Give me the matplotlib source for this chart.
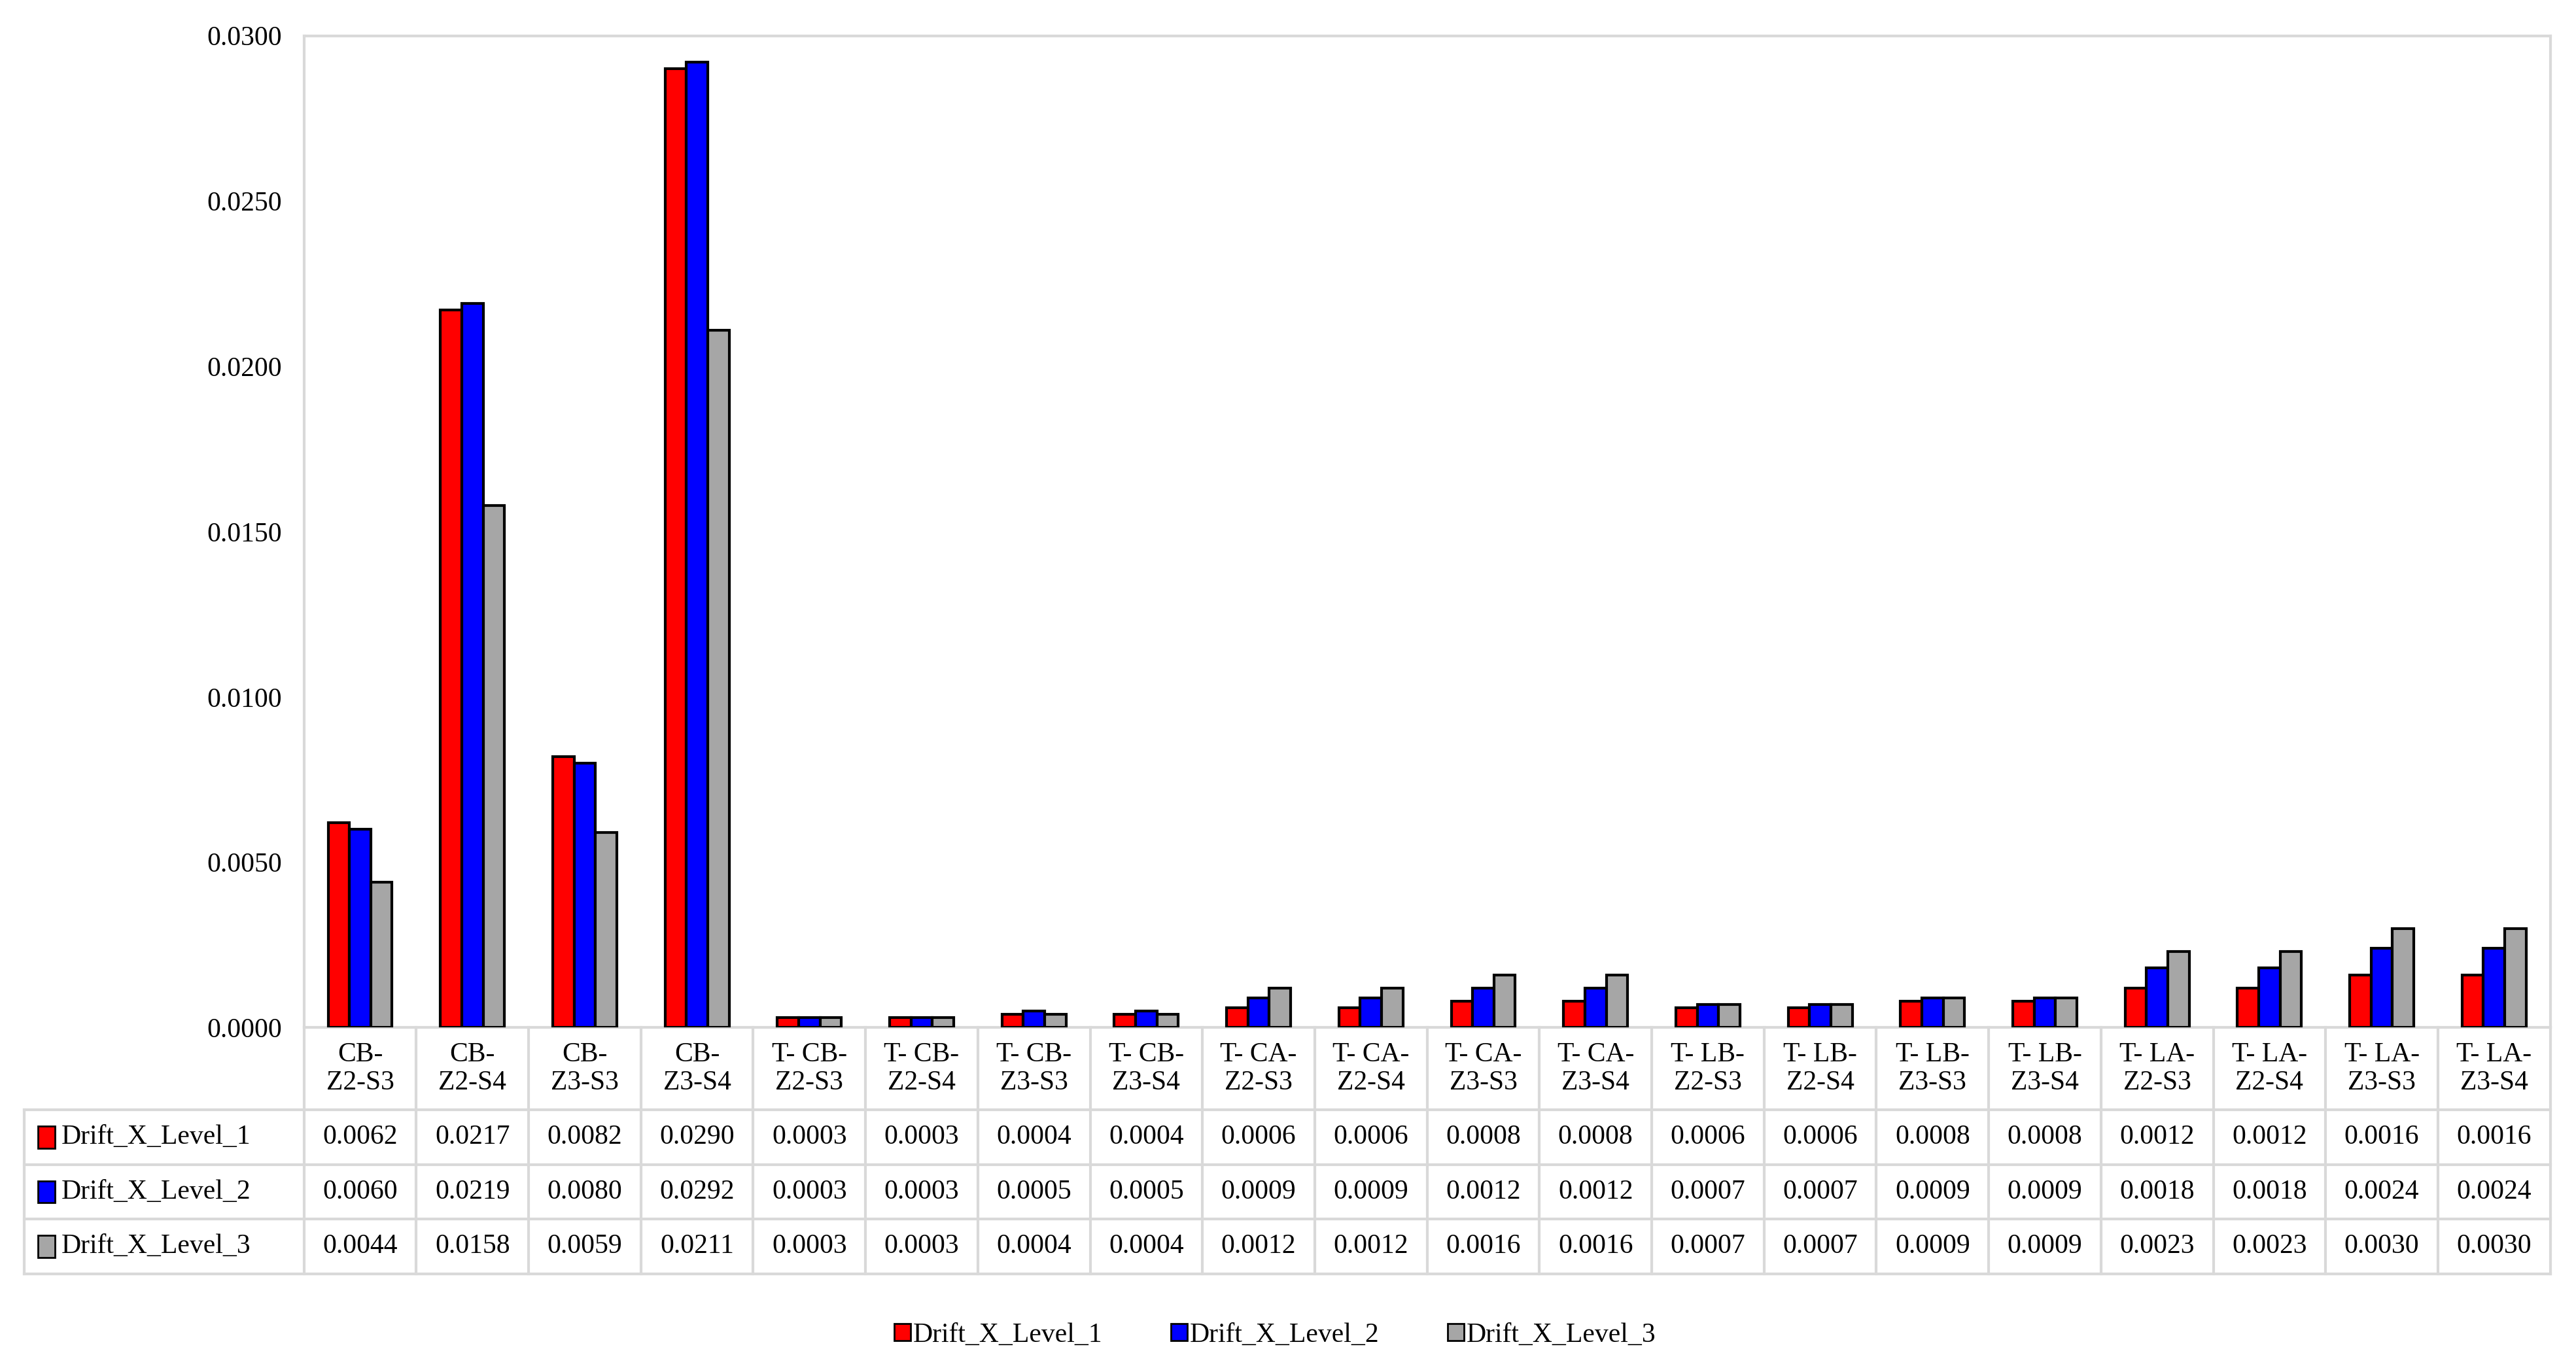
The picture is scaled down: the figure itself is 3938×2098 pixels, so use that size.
import matplotlib
matplotlib.use("Agg")
import matplotlib.pyplot as plt
from matplotlib.patches import Patch, Rectangle
from matplotlib.lines import Line2D
import numpy as np

plt.rcParams['font.family'] = ['Liberation Serif', 'DejaVu Serif']

categories = ["CB-\nZ2-S3", "CB-\nZ2-S4", "CB-\nZ3-S3", "CB-\nZ3-S4",
              "T- CB-\nZ2-S3", "T- CB-\nZ2-S4", "T- CB-\nZ3-S3", "T- CB-\nZ3-S4",
              "T- CA-\nZ2-S3", "T- CA-\nZ2-S4", "T- CA-\nZ3-S3", "T- CA-\nZ3-S4",
              "T- LB-\nZ2-S3", "T- LB-\nZ2-S4", "T- LB-\nZ3-S3", "T- LB-\nZ3-S4",
              "T- LA-\nZ2-S3", "T- LA-\nZ2-S4", "T- LA-\nZ3-S3", "T- LA-\nZ3-S4"]
level1 = [0.0062, 0.0217, 0.0082, 0.0290, 0.0003, 0.0003, 0.0004, 0.0004, 0.0006, 0.0006,
          0.0008, 0.0008, 0.0006, 0.0006, 0.0008, 0.0008, 0.0012, 0.0012, 0.0016, 0.0016]
level2 = [0.0060, 0.0219, 0.0080, 0.0292, 0.0003, 0.0003, 0.0005, 0.0005, 0.0009, 0.0009,
          0.0012, 0.0012, 0.0007, 0.0007, 0.0009, 0.0009, 0.0018, 0.0018, 0.0024, 0.0024]
level3 = [0.0044, 0.0158, 0.0059, 0.0211, 0.0003, 0.0003, 0.0004, 0.0004, 0.0012, 0.0012,
          0.0016, 0.0016, 0.0007, 0.0007, 0.0009, 0.0009, 0.0023, 0.0023, 0.0030, 0.0030]
series_names = ["Drift_X_Level_1", "Drift_X_Level_2", "Drift_X_Level_3"]
colors = ["#ff0000", "#0000ff", "#a6a6a6"]
series = [level1, level2, level3]

fig = plt.figure(figsize=(19.69, 10.49), dpi=200)
ax = fig.add_axes([0.118, 0.251, 0.872, 0.723])
n = len(categories)
x = np.arange(n)
w = 0.19
for k, (vals, c) in enumerate(zip(series, colors)):
    ax.bar(x + (k - 1) * w, vals, w, color=c, edgecolor='black', linewidth=1.5, zorder=3)

ax.set_xlim(-0.5, n - 0.5)
ax.set_ylim(0, 0.03)
ax.set_yticks(np.arange(0, 0.03001, 0.005))
ax.set_yticklabels([f"{v:.4f}" for v in np.arange(0, 0.03001, 0.005)], fontsize=15)
ax.tick_params(axis='y', length=0, pad=12)
ax.set_xticks([])
for s in ax.spines.values():
    s.set_color('#d9d9d9')
    s.set_linewidth(1.5)

# table
tr = ax.get_xaxis_transform()
lc = '#d9d9d9'
left = -2.99
r0 = 0.0
r1 = -0.083
rh = 0.055
rows = [r1 - rh * i for i in range(4)]
kw = dict(transform=tr, clip_on=False, color=lc, lw=1.5)
# vertical lines
for i in range(n + 1):
    ax.add_line(Line2D([i - 0.5, i - 0.5], [r0, rows[3]], **kw))
ax.add_line(Line2D([left, left], [rows[0], rows[3]], **kw))
for y in rows:
    ax.add_line(Line2D([left, n - 0.5], [y, y], **kw))
for i, cat in enumerate(categories):
    ax.text(i, (r0 + r1) / 2, cat, transform=tr, ha='center', va='center', fontsize=15, linespacing=1.15)
for k, (vals, c, name) in enumerate(zip(series, colors, series_names)):
    yc = (rows[k] + rows[k + 1]) / 2
    ax.add_patch(Rectangle((left + 0.12, yc - 0.011), 0.15, 0.022, transform=tr, clip_on=False,
                           facecolor=c, edgecolor='black', lw=1))
    ax.text(left + 0.33, yc, name, transform=tr, ha='left', va='center', fontsize=15)
    for i, v in enumerate(vals):
        ax.text(i, yc, f"{v:.4f}", transform=tr, ha='center', va='center', fontsize=15)

handles = [Patch(facecolor=c, edgecolor='black', label=nm) for c, nm in zip(colors, series_names)]
fig.legend(handles=handles, loc='center', bbox_to_anchor=(0.495, 0.027), ncol=3, frameon=False,
           fontsize=15, handlelength=0.6, handleheight=0.6, handletextpad=0.1, columnspacing=2.5)

fig.savefig("out.png", dpi=200, facecolor='white')
